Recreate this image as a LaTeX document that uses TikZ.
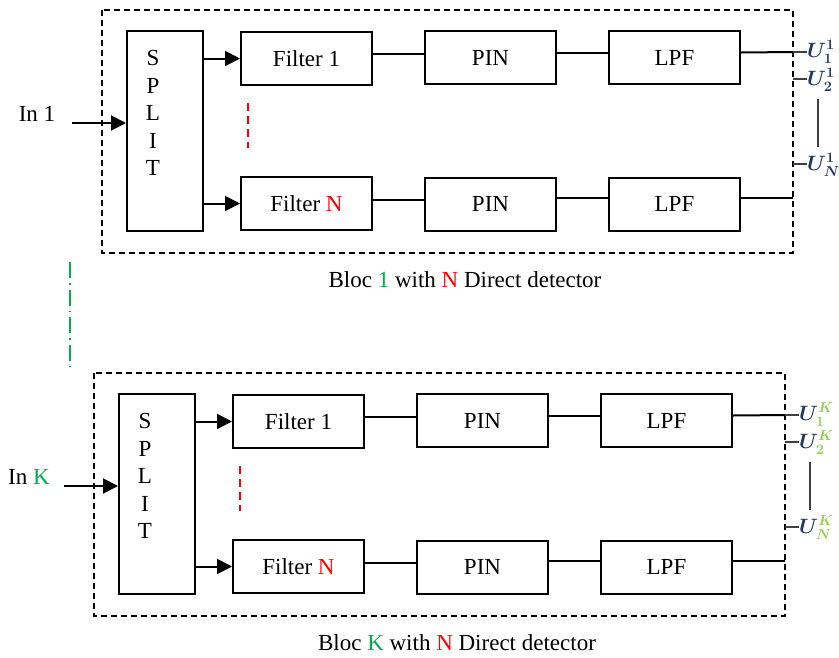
\documentclass[tikz,border=0pt]{standalone}
\usepackage{fontspec}
\setmainfont{Liberation Serif}
\usetikzlibrary{arrows.meta}
\definecolor{grn}{RGB}{0,176,80}
\definecolor{lgrn}{RGB}{146,208,80}
\definecolor{ublue}{RGB}{31,56,100}
\tikzset{
 every node/.style={font=\fontsize{23}{27.5}\selectfont},
 box/.style={draw, line width=2pt, minimum width=131pt, minimum height=53pt, inner sep=0pt},
 splitbox/.style={draw, line width=2pt, minimum width=76pt, minimum height=200pt, inner sep=0pt},
 conn/.style={line width=2pt},
 arr/.style={line width=2pt, -{Triangle[length=15pt,width=15pt]}},
 blocframe/.style={line width=1.8pt, dash pattern=on 6pt off 4pt},
 reddash/.style={red, line width=1.8pt, dash pattern=on 8pt off 5pt},
 tickline/.style={line width=1.2pt, black!75},
 ulabel/.style={anchor=west, inner sep=0pt, text=ublue, font=\fontsize{22}{26}\selectfont\boldmath},
 greendash/.style={grn, line width=1.8pt, dash pattern=on 16pt off 5pt on 1.5pt off 5pt},
}
% #1 suffix, #2 shift, #3 caption number, #4 input number, #5 superscript
\newcommand\mybloc[5]{%
\begin{scope}[shift={#2}]
\draw[blocframe] (102,10) rectangle (793,253);
\node[splitbox] (split#1) at (165,131) {};
\node[align=center] (splittxt#1) at (153,113) {S\\P\\L\\I\\T};
\node[box] (fa#1) at (306.5,58.5) {Filter 1};
\node[box] (pa#1) at (490.5,57.5) {PIN};
\node[box] (la#1) at (674.5,57.5) {LPF};
\node[box] (fn#1) at (306.5,203.5) {Filter \textcolor{red}{N}};
\node[box] (pn#1) at (490.5,204) {PIN};
\node[box] (ln#1) at (674.5,204) {LPF};
\draw[arr] (split#1.east |- fa#1) -- (fa#1);
\draw[arr] (split#1.east |- fn#1) -- (fn#1);
\draw[conn] ([yshift=5pt]fa#1.east) -- ([yshift=5pt]fa#1.east -| pa#1.west);
\draw[conn] ([yshift=5pt]pa#1.east) -- ([yshift=5pt]pa#1.east -| la#1.west);
\coordinate (oa#1) at (793,52);
\draw[conn] ([yshift=5pt]la#1.east) -- (oa#1);
\draw[conn] ([yshift=4pt]fn#1.east) -- ([yshift=4pt]fn#1.east -| pn#1.west);
\draw[conn] ([yshift=6pt]pn#1.east) -- ([yshift=6pt]pn#1.east -| ln#1.west);
\coordinate (on#1) at (793,198);
\draw[conn] ([yshift=6pt]ln#1.east) -- (on#1);
\node (in#1) at (37,114) {In #4};
\coordinate (is#1) at (72,123);
\draw[arr] (is#1) -- (is#1 -| split#1.west);
\coordinate (ra#1) at (248,103);
\coordinate (rb#1) at (248,148);
\draw[reddash] (ra#1) -- (rb#1);
\node (cap#1) at (465,280) {Bloc #3 with \textcolor{red}{N} Direct detector};
\node[ulabel] (u1#1) at (807,52) {$U_1^{#5}$};
\node[ulabel] (u2#1) at (807,80) {$U_2^{#5}$};
\node[ulabel] (un#1) at (807,165) {$U_N^{#5}$};
\coordinate (t2#1) at (793,79);
\coordinate (t3#1) at (793,164);
\draw[tickline] (oa#1) -- (u1#1.west |- oa#1);
\draw[tickline] (t2#1) -- (u2#1.west |- t2#1);
\draw[tickline] (t3#1) -- (un#1.west |- t3#1);
\coordinate (va#1) at (818,99);
\coordinate (vb#1) at (818,147);
\draw[tickline] (va#1) -- (vb#1);
\end{scope}}
\begin{document}
\begin{tikzpicture}[x=1pt,y=-1pt]
\useasboundingbox (0,0) rectangle (839,657);
\mybloc{a}{(0,0)}{\textcolor{grn}{1}}{1}{\color{ublue}1}
\mybloc{b}{(-8,363)}{\textcolor{grn}{K}}{\textcolor{grn}{K}}{\color{lgrn}K}
\coordinate (ga) at (70,262);
\coordinate (gb) at (70,366);
\draw[greendash] (ga) -- (gb);
\end{tikzpicture}
\end{document}
